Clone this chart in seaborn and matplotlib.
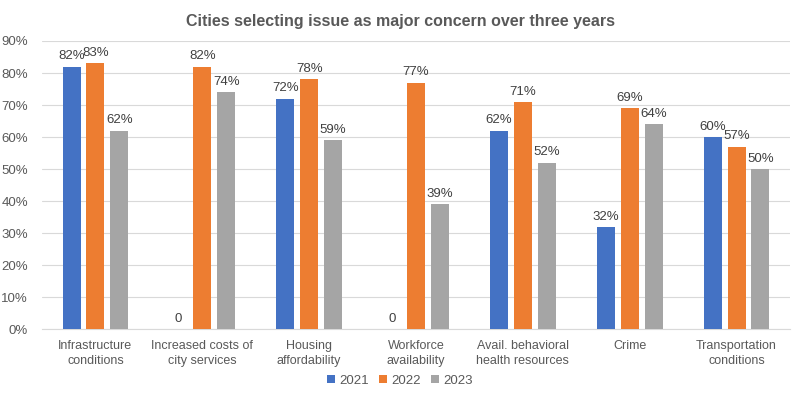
import numpy as np
import matplotlib.pyplot as plt
import seaborn as sns
import pandas as pd

# dados do gráfico
categorias = ["Infrastructure\nconditions", "Increased costs of\ncity services",
              "Housing\naffordability", "Workforce\navailability",
              "Avail. behavioral\nhealth resources", "Crime",
              "Transportation\nconditions"]
anos = ["2021", "2022", "2023"]
v2021 = [82, 0, 72, 0, 62, 32, 60]
v2022 = [83, 82, 78, 77, 71, 69, 57]
v2023 = [62, 74, 59, 39, 52, 64, 50]

cores = ["#4472C4", "#ED7D31", "#A5A5A5"]

df = pd.DataFrame({
    "Categoria": categorias * 3,
    "Ano": [a for a in anos for _ in categorias],
    "Valor": v2021 + v2022 + v2023,
})

sns.set_style("white")
plt.rcParams['font.family'] = ['Liberation Sans', 'DejaVu Sans']

fig = plt.figure(figsize=(8, 3.98), dpi=100)
ax = fig.add_axes([0.0525, 0.173, 0.935, 0.724])

sns.barplot(data=df, x="Categoria", y="Valor", hue="Ano", palette=cores,
            saturation=1, width=0.67, gap=0.25, order=categorias, hue_order=anos,
            ax=ax, legend=True, zorder=3, linewidth=0, edgecolor="none")

# rótulos de dados
for cont in ax.containers:
    labels = [f"{int(b.get_height())}%" if b.get_height() > 0 else "0" for b in cont]
    ax.bar_label(cont, labels=labels, padding=3, fontsize=9.5, color="#404040")

ax.set_ylim(0, 90)
ax.set_yticks(range(0, 91, 10))
ax.set_yticklabels([f"{t}%" for t in range(0, 91, 10)], fontsize=9.5, color="#595959")
ax.set_xticks(range(len(categorias)))
ax.set_xticklabels(categorias, fontsize=9, color="#595959", linespacing=1.25)
ax.tick_params(axis="x", length=0, pad=8)
ax.tick_params(axis="y", length=0, pad=10)
ax.set_xlim(-0.5, 6.5)
ax.yaxis.grid(True, color="#D9D9D9", linewidth=0.8, zorder=0)
ax.set_xlabel("")
ax.set_ylabel("")
for s in ["top", "right", "left"]:
    ax.spines[s].set_visible(False)
ax.spines["bottom"].set_color("#D9D9D9")

handles, labels = ax.get_legend_handles_labels()
ax.get_legend().remove()
fig.legend(handles, labels, loc="center", bbox_to_anchor=(0.5, 0.043), ncol=3,
           frameon=False, fontsize=9.5, handlelength=0.6, handleheight=0.6,
           handletextpad=0.3, columnspacing=0.8, labelcolor="#595959")

fig.suptitle("Cities selecting issue as major concern over three years",
             fontsize=11.5, fontweight="bold", color="#595959", y=0.965)

plt.savefig("out.png", dpi=100)
